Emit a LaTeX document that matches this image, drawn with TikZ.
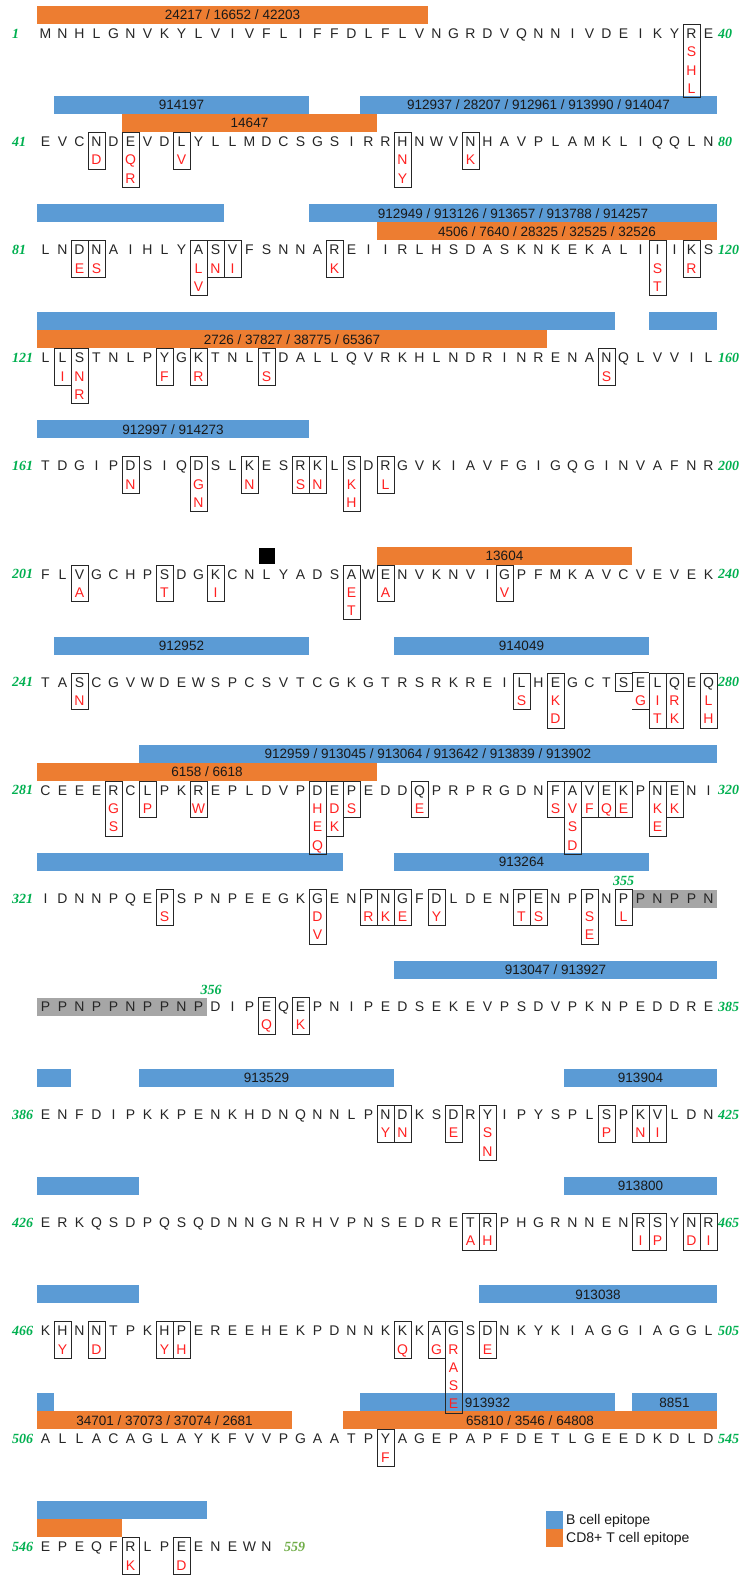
\documentclass[tikz,border=0pt]{standalone}
\usepackage{fontspec}
\setmainfont{Liberation Sans}
\newfontfamily\numfont{Liberation Serif}
\definecolor{epiblue}{HTML}{5B9BD5}
\definecolor{epiorange}{HTML}{ED7D31}
\definecolor{numgreen}{HTML}{00B050}
\definecolor{numolive}{HTML}{70AD47}
\definecolor{mutred}{HTML}{FF2020}
\definecolor{grayfill}{HTML}{A6A6A6}
\newcommand\colx[1]{(28.5+17*(#1))}
\newcommand\rowy[1]{(33.5+108.1*((#1)-1))}
\newcommand\seqrow[3]{\foreach \a [count=\i from #2] in {#3}{\node[res] (s#1c\i) at ({\colx{\i}},{\rowy{#1}}) {\a};}}
\newcommand\mut[4]{%
  \node[mutbox, minimum height={18.3*(#3)}] (m#1c#2) at ({\colx{#2}},{\rowy{#1}-9.5}) {};
  \foreach \v [count=\k] in {#4}{\node[var] (v#1c#2n\k) at ({\colx{#2}},{\rowy{#1}+18.3*\k}) {\v};}}
\newcommand\epibar[6]{%
  \node[epi, fill=#5, minimum width={17*((#4)-(#3)+1)}] (e#1x#3#5) at ({37+17*((#3)-1)+8.5*((#4)-(#3)+1)},{\rowy{#1}-36.5+18*(#2)}) {#6};}
\tikzset{
  res/.style={font=\fontsize{14}{14}\selectfont, text=black!85, inner sep=0pt, text height=10pt, text depth=0pt, anchor=center},
  var/.style={res, text=mutred},
  mutbox/.style={draw=black!85, line width=0.8pt, minimum width=17pt, inner sep=0pt, anchor=north},
  epi/.style={inner sep=0pt, minimum height=18pt, font=\fontsize{13.5}{13.5}\selectfont, text=black!90, text height=9.7pt, text depth=0pt},
  lnum/.style={font=\numfont\bfseries\itshape\fontsize{14}{14}\selectfont, text=numgreen, inner sep=0pt, text height=9.5pt, text depth=0pt, anchor=west},
  graybox/.style={fill=grayfill, draw=none, inner sep=0pt, anchor=north west, minimum height=18.3pt},
  legsq/.style={inner sep=0pt, minimum width=17pt, minimum height=18pt, anchor=north west},
  legtxt/.style={font=\fontsize{14}{14}\selectfont, inner sep=0pt, text height=10pt, text depth=0pt, anchor=west, text=black!90},
  boxline/.style={draw=black!85, line width=0.8pt},
}
\begin{document}
\begin{tikzpicture}[x=1pt,y=-1pt]
\useasboundingbox (0,0) rectangle (742,1593);
\fill[white] (0,0) rectangle (742,1593);
% ---------- epitope bars ----------
\epibar{1}{1}{1}{23}{epiorange}{24217 / 16652 / 42203}
\epibar{2}{0}{2}{16}{epiblue}{914197}
\epibar{2}{0}{20}{40}{epiblue}{912937 / 28207 / 912961 / 913990 / 914047}
\epibar{2}{1}{6}{20}{epiorange}{14647}
\epibar{3}{0}{1}{11}{epiblue}{}
\epibar{3}{0}{17}{40}{epiblue}{912949 / 913126 / 913657 / 913788 / 914257}
\epibar{3}{1}{21}{40}{epiorange}{4506 / 7640 / 28325 / 32525 / 32526}
\epibar{4}{0}{1}{34}{epiblue}{}
\epibar{4}{0}{37}{40}{epiblue}{}
\epibar{4}{1}{1}{30}{epiorange}{2726 / 37827 / 38775 / 65367}
\epibar{5}{0}{1}{16}{epiblue}{912997 / 914273}
\epibar{6}{1}{21}{35}{epiorange}{13604}
\epibar{7}{0}{2}{16}{epiblue}{912952}
\epibar{7}{0}{22}{36}{epiblue}{914049}
\epibar{8}{0}{7}{40}{epiblue}{912959 / 913045 / 913064 / 913642 / 913839 / 913902}
\epibar{8}{1}{1}{20}{epiorange}{6158 / 6618}
\epibar{9}{0}{1}{18}{epiblue}{}
\epibar{9}{0}{22}{36}{epiblue}{913264}
\epibar{10}{0}{22}{40}{epiblue}{913047 / 913927}
\epibar{11}{0}{1}{2}{epiblue}{}
\epibar{11}{0}{7}{21}{epiblue}{913529}
\epibar{11}{0}{32}{40}{epiblue}{913904}
\epibar{12}{0}{1}{6}{epiblue}{}
\epibar{12}{0}{32}{40}{epiblue}{913800}
\epibar{13}{0}{1}{6}{epiblue}{}
\epibar{13}{0}{27}{40}{epiblue}{913038}
\epibar{14}{0}{1}{1}{epiblue}{}
\epibar{14}{0}{20}{34}{epiblue}{913932}
\epibar{14}{0}{36}{40}{epiblue}{8851}
\epibar{14}{1}{1}{15}{epiorange}{34701 / 37073 / 37074 / 2681}
\epibar{14}{1}{19}{40}{epiorange}{65810 / 3546 / 64808}
\epibar{15}{0}{1}{10}{epiblue}{}
\epibar{15}{1}{1}{5}{epiorange}{}
% black marker
\node[fill=black, inner sep=0pt, minimum width=16pt, minimum height=16.5pt, anchor=north west] (blk) at (259,{\rowy{6}-26.5}) {};
% gray repeat region
\node[graybox, minimum width=85pt] (g9) at ({37+17*35},{\rowy{9}-9}) {};
\node[graybox, minimum width=170pt] (g10) at (37,{\rowy{10}-9}) {};
% ---------- sequence ----------
\seqrow{1}{1}{M,N,H,L,G,N,V,K,Y,L,V,I,V,F,L,I,F,F,D,L,F,L,V,N,G,R,D,V,Q,N,N,I,V,D,E,I,K,Y,R,E}
\seqrow{2}{1}{E,V,C,N,D,E,V,D,L,Y,L,L,M,D,C,S,G,S,I,R,R,H,N,W,V,N,H,A,V,P,L,A,M,K,L,I,Q,Q,L,N}
\seqrow{3}{1}{L,N,D,N,A,I,H,L,Y,A,S,V,F,S,N,N,A,R,E,I,I,R,L,H,S,D,A,S,K,N,K,E,K,A,L,I,I,I,K,S}
\seqrow{4}{1}{L,L,S,T,N,L,P,Y,G,K,T,N,L,T,D,A,L,L,Q,V,R,K,H,L,N,D,R,I,N,R,E,N,A,N,Q,L,V,V,I,L}
\seqrow{5}{1}{T,D,G,I,P,D,S,I,Q,D,S,L,K,E,S,R,K,L,S,D,R,G,V,K,I,A,V,F,G,I,G,Q,G,I,N,V,A,F,N,R}
\seqrow{6}{1}{F,L,V,G,C,H,P,S,D,G,K,C,N,L,Y,A,D,S,A,W,E,N,V,K,N,V,I,G,P,F,M,K,A,V,C,V,E,V,E,K}
\seqrow{7}{1}{T,A,S,C,G,V,W,D,E,W,S,P,C,S,V,T,C,G,K,G,T,R,S,R,K,R,E,I,L,H,E,G,C,T,S,E,L,Q,E,Q}
\seqrow{8}{1}{C,E,E,E,R,C,L,P,K,R,E,P,L,D,V,P,D,E,P,E,D,D,Q,P,R,P,R,G,D,N,F,A,V,E,K,P,N,E,N,I}
\seqrow{9}{1}{I,D,N,N,P,Q,E,P,S,P,N,P,E,E,G,K,G,E,N,P,N,G,F,D,L,D,E,N,P,E,N,P,P,N,P,P,N,P,P,N}
\seqrow{10}{1}{P,P,N,P,P,N,P,P,N,P,D,I,P,E,Q,E,P,N,I,P,E,D,S,E,K,E,V,P,S,D,V,P,K,N,P,E,D,D,R,E}
\seqrow{11}{1}{E,N,F,D,I,P,K,K,P,E,N,K,H,D,N,Q,N,N,L,P,N,D,K,S,D,R,Y,I,P,Y,S,P,L,S,P,K,V,L,D,N}
\seqrow{12}{1}{E,R,K,Q,S,D,P,Q,S,Q,D,N,N,G,N,R,H,V,P,N,S,E,D,R,E,T,R,P,H,G,R,N,N,E,N,R,S,Y,N,R}
\seqrow{13}{1}{K,H,N,N,T,P,K,H,P,E,R,E,E,H,E,K,P,D,N,N,K,K,K,A,G,S,D,N,K,Y,K,I,A,G,G,I,A,G,G,L}
\seqrow{14}{1}{A,L,L,A,C,A,G,L,A,Y,K,F,V,V,P,G,A,A,T,P,Y,A,G,E,P,A,P,F,D,E,T,L,G,E,E,D,K,D,L,D}
\seqrow{15}{1}{E,P,E,Q,F,R,L,P,E,E,N,E,W,N}
% ---------- variant boxes ----------
\mut{1}{39}{4}{S,H,L}
\mut{2}{4}{2}{D}\mut{2}{6}{3}{Q,R}\mut{2}{9}{2}{V}\mut{2}{22}{3}{N,Y}\mut{2}{26}{2}{K}
\mut{3}{3}{2}{E}\mut{3}{4}{2}{S}\mut{3}{10}{3}{L,V}\mut{3}{11}{2}{N}\mut{3}{12}{2}{I}\mut{3}{18}{2}{K}\mut{3}{37}{3}{S,T}\mut{3}{39}{2}{R}
\mut{4}{2}{2}{I}\mut{4}{3}{3}{N,R}\mut{4}{8}{2}{F}\mut{4}{10}{2}{R}\mut{4}{14}{2}{S}\mut{4}{34}{2}{S}
\mut{5}{6}{2}{N}\mut{5}{10}{3}{G,N}\mut{5}{13}{2}{N}\mut{5}{16}{2}{S}\mut{5}{17}{2}{N}\mut{5}{19}{3}{K,H}\mut{5}{21}{2}{L}
\mut{6}{3}{2}{A}\mut{6}{8}{2}{T}\mut{6}{11}{2}{I}\mut{6}{19}{3}{E,T}\mut{6}{21}{2}{A}\mut{6}{28}{2}{V}
\mut{7}{3}{2}{N}\mut{7}{29}{2}{S}\mut{7}{31}{3}{K,D}\mut{7}{37}{3}{I,T}\mut{7}{38}{3}{R,K}\mut{7}{40}{3}{L,H}
\node[mutbox, minimum height=18.3pt] (m7c35) at ({\colx{35}},{\rowy{7}-9.5}) {};
\node[var] (v7c36n1) at ({\colx{36}},{\rowy{7}+18.3}) {G};
\draw[boxline] ({37+17*35},{\rowy{7}-9.5}) -- ++(17,0);
\draw[boxline] ({37+17*35},{\rowy{7}+27.1}) -- ++(17,0);
\mut{8}{5}{3}{G,S}\mut{8}{7}{2}{P}\mut{8}{10}{2}{W}\mut{8}{17}{4}{H,E,Q}\mut{8}{18}{3}{D,K}\mut{8}{19}{2}{S}\mut{8}{23}{2}{E}
\mut{8}{31}{2}{S}\mut{8}{32}{4}{V,S,D}\mut{8}{33}{2}{F}\mut{8}{34}{2}{Q}\mut{8}{35}{2}{E}\mut{8}{37}{3}{K,E}\mut{8}{38}{2}{K}
\mut{9}{8}{2}{S}\mut{9}{17}{3}{D,V}\mut{9}{20}{2}{R}\mut{9}{21}{2}{K}\mut{9}{22}{2}{E}\mut{9}{24}{2}{Y}\mut{9}{29}{2}{T}\mut{9}{30}{2}{S}\mut{9}{33}{3}{S,E}\mut{9}{35}{2}{L}
\mut{10}{14}{2}{Q}\mut{10}{16}{2}{K}
\mut{11}{21}{2}{Y}\mut{11}{22}{2}{N}\mut{11}{25}{2}{E}\mut{11}{27}{3}{S,N}\mut{11}{34}{2}{P}\mut{11}{36}{2}{N}\mut{11}{37}{2}{I}
\mut{12}{26}{2}{A}\mut{12}{27}{2}{H}\mut{12}{36}{2}{I}\mut{12}{37}{2}{P}\mut{12}{39}{2}{D}\mut{12}{40}{2}{I}
\mut{13}{2}{2}{Y}\mut{13}{4}{2}{D}\mut{13}{8}{2}{Y}\mut{13}{9}{2}{H}\mut{13}{22}{2}{Q}\mut{13}{24}{2}{G}\mut{13}{25}{5}{R,A,S,E}\mut{13}{27}{2}{E}
\mut{14}{21}{2}{F}
\mut{15}{6}{2}{K}\mut{15}{9}{2}{D}
% ---------- position numbers ----------
\foreach \n/\r in {1/1,41/2,81/3,121/4,161/5,201/6,241/7,281/8,321/9,386/11,426/12,466/13,506/14,546/15}{
  \node[lnum] (ln\r) at (12,{\rowy{\r}}) {\n};}
\foreach \n/\r in {40/1,80/2,120/3,160/4,200/5,240/6,280/7,320/8,385/10,425/11,465/12,505/13,545/14}{
  \node[lnum] (rn\r) at (718,{\rowy{\r}}) {\n};}
\node[lnum, text=numolive] (rn15) at (284,{\rowy{15}}) {559};
\node[lnum, anchor=center] (p355) at ({\colx{35}},{\rowy{9}-18}) {355};
\node[lnum, anchor=center] (p356) at (211,{\rowy{10}-16.5}) {356};
% ---------- legend ----------
\node[legsq, fill=epiblue] (lgb) at (546,{\rowy{15}-36}) {};
\node[legsq, fill=epiorange] (lgo) at (546,{\rowy{15}-18}) {};
\node[legtxt] (lgbt) at (566,{\rowy{15}-27}) {B cell epitope};
\node[legtxt] (lgot) at (566,{\rowy{15}-9}) {CD8+ T cell epitope};
\end{tikzpicture}
\end{document}
